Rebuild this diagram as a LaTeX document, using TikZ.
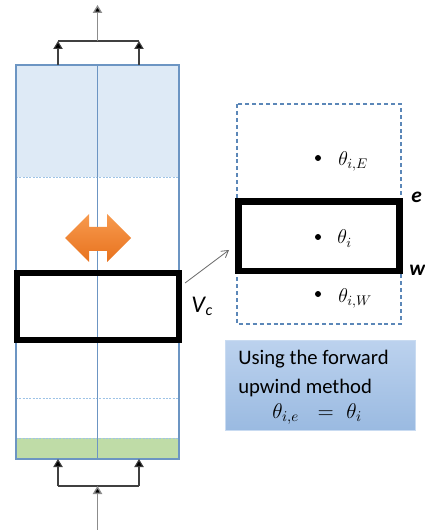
\RequirePackage{fix-cm}
\documentclass[tikz,border=0pt]{standalone}
\usepackage{fontspec}
\newfontfamily\carl{Carlito}
\usetikzlibrary{arrows.meta,calc}
\definecolor{colblue}{HTML}{6C95C3}
\definecolor{lightfill}{HTML}{DEEAF6}
\definecolor{sepblue}{HTML}{9DC3E6}
\definecolor{greenfill}{HTML}{BFDCA7}
\definecolor{dashbox}{HTML}{5B87B8}
\definecolor{orangeA}{HTML}{F79A4E}
\definecolor{orangeB}{HTML}{E8721E}
\definecolor{boxtop}{HTML}{BCD2EE}
\definecolor{boxbot}{HTML}{9ABAE1}
\definecolor{boxedge}{HTML}{C9DBF1}
\begin{document}
\begin{tikzpicture}[x=0.75pt,y=-0.75pt,
  colline/.style={draw=colblue,line width=1.1pt},
  midline/.style={draw=colblue,line width=1pt},
  sepline/.style={draw=sepblue,line width=0.7pt,dash pattern=on 1.5pt off 1pt},
  cvbox/.style={draw=black,line width=4.5pt},
  branch/.style={draw=black!75,line width=0.8pt},
  branchtip/.style={branch,-{Triangle[length=6pt,width=7pt,fill=black]}},
  feedtip/.style={draw=black!45,line width=1pt,-{Triangle[length=6pt,width=7pt,fill=black]}},
  pt/.style={circle,fill=black,inner sep=0pt,minimum size=4.5pt},
  mathlbl/.style={anchor=base west,inner sep=0pt,font=\fontsize{15}{18}\selectfont},
  facelbl/.style={anchor=base west,inner sep=0pt,font=\carl\bfseries\itshape\fontsize{16}{18}\selectfont},
  boxline/.style={anchor=base west,inner sep=0pt,font=\carl\fontsize{15.5}{18}\selectfont}
]
\useasboundingbox (0,0) rectangle (424,530);

% ---- left column ----
\fill[lightfill] (16,65) rectangle (179,177);
\fill[greenfill] (16,438) rectangle (179,459);
\draw[sepline] (16,177) -- (179,177);
\draw[sepline] (16,398) -- (179,398);
\draw[sepline] (16,438) -- (179,438);
\draw[midline] (97.5,65) -- (97.5,459);
\draw[colline] (16,65) rectangle (179,459);

% ---- top branches ----
\coordinate (topL) at (58,65);
\coordinate (topR) at (139,65);
\coordinate (joinT) at (97.5,41);
\coordinate (outT) at (97.5,5);
\draw[branch] (topL |- joinT) -- (topR |- joinT);
\draw[branchtip] (topL) -- (topL |- joinT);
\draw[branchtip] (topR) -- (topR |- joinT);
\draw[feedtip] (joinT) -- (outT);

% ---- bottom branches ----
\coordinate (botL) at (58,459);
\coordinate (botR) at (139,459);
\coordinate (joinB) at (97.5,486);
\coordinate (inB) at (97.5,530);
\draw[branch] (botL |- joinB) -- (botR |- joinB);
\draw[branchtip] (botL |- joinB) -- (botL);
\draw[branchtip] (botR |- joinB) -- (botR);
\draw[feedtip] (inB) -- (joinB);

% ---- orange double arrow ----
\shade[top color=orangeA,bottom color=orangeB]
  (65,238) -- (89,214) -- (89,227) -- (107,227) -- (107,214) -- (131,238)
  -- (107,262) -- (107,251) -- (89,251) -- (89,262) -- cycle;

% ---- control volume on column ----
\draw[cvbox] (17,272.5) rectangle (179,339.5);
\coordinate (cvcorner) at (185,283);
\node[anchor=base west,inner sep=0pt,font=\carl\itshape\fontsize{18}{20}\selectfont] (vc) at (191,312) {V\kern0.5pt\raisebox{-2.5pt}{\fontsize{12}{14}\selectfont c}};

% ---- zoomed stencil ----
\draw[dashbox,line width=0.8pt,dash pattern=on 3pt off 2.2pt] (237,104) rectangle (401,324);
\draw[cvbox,line width=4.8pt] (238.5,201.5) rectangle (399.5,271);
\coordinate (zoomin) at (229,250);
\draw[draw=black!60,line width=0.6pt,-{Straight Barb[length=5pt,width=6pt]}] (cvcorner) -- (zoomin);

\node[pt] (pE) at (318,158) {};
\node[pt] (pC) at (318,237) {};
\node[pt] (pW) at (318,294) {};
\node[mathlbl] (tE) at (338,166) {$\theta_{i,E}$};
\node[mathlbl] (tC) at (337,244) {$\theta_{i}$};
\node[mathlbl] (tW) at (338,302) {$\theta_{i,W}$};
\node[facelbl] (fe) at (411,203) {e};
\node[facelbl] (fw) at (409,275) {w};

% ---- method box ----
\shade[top color=boxtop,bottom color=boxbot] (225,340) rectangle (415,430);
\draw[boxedge,line width=0.6pt] (225,340) rectangle (415,430);
\node[boxline] (l1) at (238,364) {Using the forward};
\node[boxline] (l2) at (238,393) {upwind method};
\node[mathlbl,font=\fontsize{16}{19}\selectfont] (l3) at (272,418) {$\theta_{i,e}\ \ =\ \theta_i$};
\end{tikzpicture}
\end{document}
